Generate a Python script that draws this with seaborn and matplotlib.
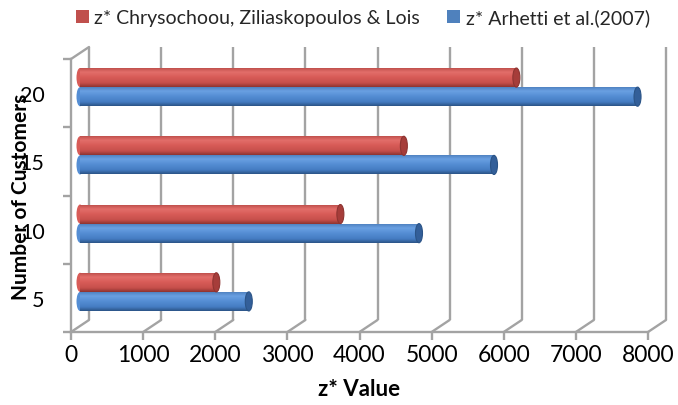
import numpy as np
import pandas as pd
import matplotlib
matplotlib.use("Agg")
import matplotlib.pyplot as plt
import matplotlib.transforms as mtransforms
from matplotlib.patches import ConnectionPatch, Ellipse, Patch
from matplotlib.colors import LinearSegmentedColormap
import seaborn as sns

# ---- data -------------------------------------------------------------
customers = ["5", "10", "15", "20"]
z_chrysochoou = [1890, 3610, 4490, 6050]
z_arhetti = [2340, 4700, 5740, 7730]
series_names = ["z* Chrysochoou, Ziliaskopoulos & Lois", "z* Arhetti et al.(2007)"]
x_ticks = [0, 1000, 2000, 3000, 4000, 5000, 6000, 7000, 8000]

df = pd.DataFrame({
    "Customers": customers * 2,
    "Value": z_chrysochoou + z_arhetti,
    "Series": [series_names[0]] * len(customers) + [series_names[1]] * len(customers),
})

# ---- style ------------------------------------------------------------
sns.set_theme(style="white")
plt.rcParams["font.family"] = ["Lato", "DejaVu Sans"]

RED = "#C0504D"
BLUE = "#4F81BD"
GRID = "#A3A3A3"
shade = {
    RED: ["#B84A46", "#E36E6A", "#D85C58", "#C64F4B", "#8E3431"],
    BLUE: ["#4A7CBA", "#6AA0E2", "#558ED4", "#457CC2", "#2B5487"],
}
caps = {RED: "#A63D3A", BLUE: "#335F99"}

fig = plt.figure(figsize=(6.78, 4.06), dpi=100)
ax = fig.add_axes([71 / 678, 73 / 406, 577 / 678, 273 / 406])


def shift(dx_px, dy_px):
    return mtransforms.ScaledTranslation(dx_px / fig.dpi, dy_px / fig.dpi, fig.dpi_scale_trans)


mid = shift(9, 6)     # depth of the bars
back = shift(18, 12)  # depth of the back wall

sns.barplot(data=df, x="Value", y="Customers", hue="Series",
            order=customers[::-1], hue_order=series_names,
            palette=[RED, BLUE], width=0.56, orient="h", saturation=1,
            legend=False, ax=ax, zorder=3)

ax.set_xlim(0, 8000)
ax.set_ylim(3.5, -0.5)

# ---- cylinder look for each bar -----------------------------------------
ax_w_px = ax.get_position().width * fig.get_figwidth() * fig.dpi
cap_w = 7 * (8000 / ax_w_px)
grad = np.linspace(0, 1, 80).reshape(-1, 1)
bars = list(ax.patches)
for p in bars:
    x0, y0, w, h = p.get_x(), p.get_y(), p.get_width(), p.get_height()
    fc = RED if np.allclose(p.get_facecolor()[:3], matplotlib.colors.to_rgb(RED)) else BLUE
    p.set_transform(ax.transData + mid)
    p.set_edgecolor("none")
    cmap = LinearSegmentedColormap.from_list("cyl", list(zip([0, 0.25, 0.5, 0.8, 1.0], shade[fc])))
    # rounded start of the cylinder
    start = Ellipse((x0, y0 + h / 2), cap_w, h, transform=ax.transData + mid,
                    facecolor=shade[fc][2], edgecolor="none", zorder=2.9)
    ax.add_patch(start)
    im = ax.imshow(grad, cmap=cmap, aspect="auto", extent=(x0, x0 + w, y0 + h, y0),
                   zorder=3.1, interpolation="bilinear")
    im.set_transform(ax.transData + mid)
    im.set_clip_path(p)
    cap = Ellipse((x0 + w, y0 + h / 2), cap_w, h, transform=ax.transData + mid,
                  facecolor=caps[fc], edgecolor=shade[fc][4], linewidth=0.8, zorder=3.2)
    ax.add_patch(cap)

ax.set_xlim(0, 8000)
ax.set_ylim(3.5, -0.5)

# ---- back wall and floor ------------------------------------------------
xt = ax.get_xaxis_transform()
for xv in x_ticks:
    ax.plot([xv, xv], [0, 1], transform=xt + back, color=GRID, lw=1.7,
            clip_on=False, zorder=1, solid_capstyle="butt")
    ax.add_artist(ConnectionPatch(xyA=(xv, 0), coordsA=xt, xyB=(xv, 0), coordsB=xt + back,
                                  color=GRID, lw=1.7, zorder=1, clip_on=False))
ax.add_artist(ConnectionPatch(xyA=(0, 1), coordsA=xt, xyB=(0, 1), coordsB=xt + back,
                              color=GRID, lw=1.7, zorder=1, clip_on=False))

# ---- front axes -----------------------------------------------------------
for side in ("top", "right"):
    ax.spines[side].set_visible(False)
for side in ("left", "bottom"):
    ax.spines[side].set_color(GRID)
    ax.spines[side].set_linewidth(1.7)
    ax.spines[side].set_zorder(1)

ax.set_xticks(x_ticks)
ax.set_xticklabels([str(v) for v in x_ticks])
ax.set_yticks(range(len(customers)))
ax.set_yticklabels(customers[::-1])
ax.set_yticks(np.arange(-0.5, len(customers), 1.0), minor=True)
ax.tick_params(axis="x", which="major", bottom=True, length=6, width=1.7, color=GRID,
               labelsize=16.5, pad=3, labelcolor="black")
ax.tick_params(axis="y", which="major", left=False, length=0, labelsize=15.5, pad=19,
               labelcolor="black")
ax.tick_params(axis="y", which="minor", left=True, length=6, width=1.7, color=GRID)

ax.set_xlabel("z* Value", fontsize=16, fontweight="bold", color="black")
ax.set_ylabel("Number of Customers", fontsize=15, fontweight="bold", color="black")
ax.xaxis.set_label_coords(0.5, -0.17)
ax.yaxis.set_label_coords(-0.07, 0.5)

handles = [Patch(facecolor=RED, edgecolor="none"), Patch(facecolor=BLUE, edgecolor="none")]
fig.legend(handles, series_names, loc="center", bbox_to_anchor=(363 / 678, 1 - 18 / 406),
           ncol=2, frameon=False, fontsize=14, handlelength=0.65, handleheight=0.65,
           handletextpad=0.3, columnspacing=1.4, borderaxespad=0)

fig.savefig("out.png", dpi=100)
